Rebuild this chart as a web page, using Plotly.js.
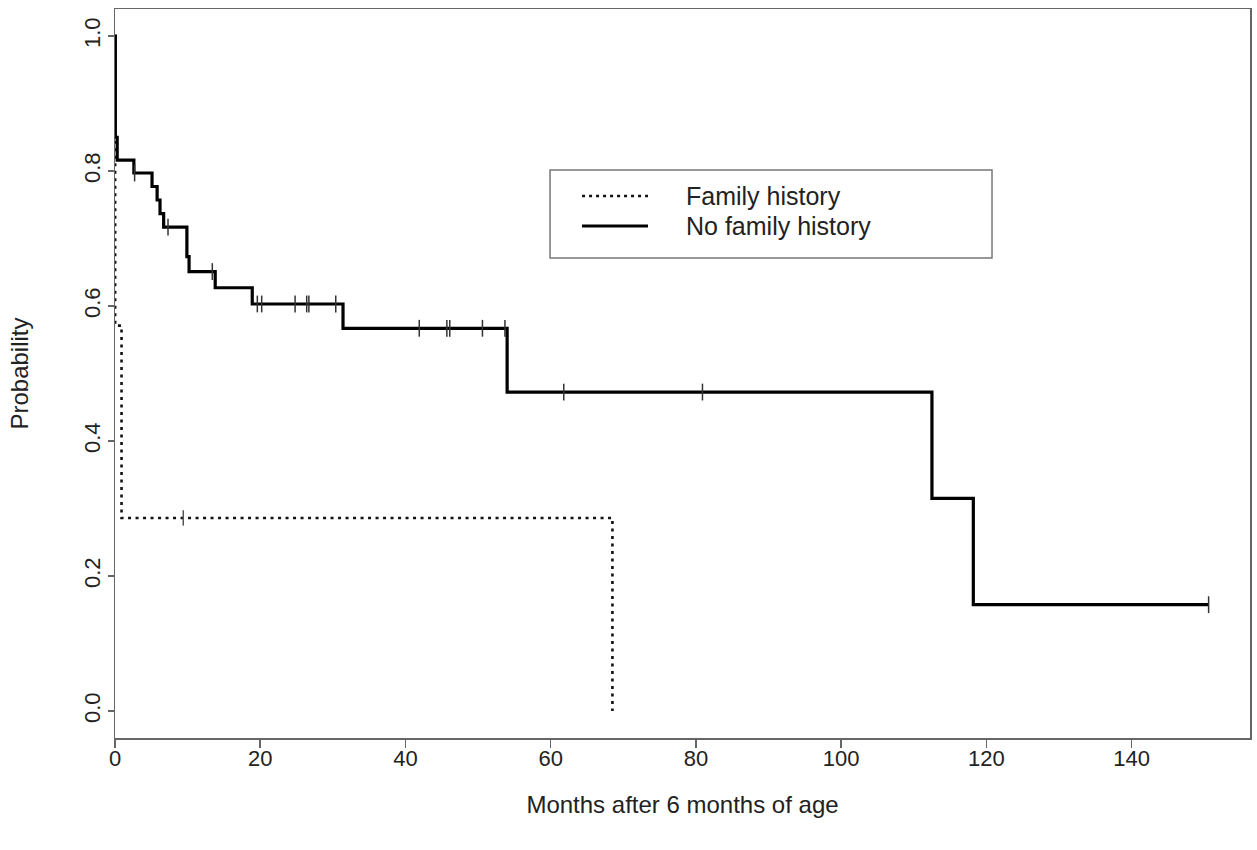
<!DOCTYPE html>
<html><head><meta charset="utf-8">
<script src="https://cdn.plot.ly/plotly-3.0.1.min.js"></script>
<style>html,body{margin:0;padding:0;background:#fff}#chart{width:1257px;height:850px}</style>
</head><body><div id="chart"></div>
<script>
// ---- data ----
const seriesNames = ['Family history', 'No family history'];

// No family history: event times (months) and survival after each step
const noFhTimes = [0.05, 0.3, 2.6, 5.1, 5.8, 6.2, 6.7, 9.9, 10.2, 13.8, 18.9, 31.4, 54.0, 112.5, 118.2];
const noFhSurv  = [0.85, 0.816, 0.797, 0.777, 0.757, 0.737, 0.717, 0.673, 0.651, 0.627, 0.603, 0.567, 0.4725, 0.315, 0.1575];
const noFhEnd = 150.6;
const noFhCensor = [2.7, 7.3, 13.4, 19.6, 20.2, 24.8, 26.4, 26.7, 30.4, 41.9, 45.7, 46.1, 50.6, 53.7, 61.8, 80.9, 150.6];

// Family history
const fhTimes = [0.02, 0.9, 68.5];
const fhSurv  = [0.571, 0.286, 0.0];
const fhEnd = 68.5;
const fhCensor = [9.4];

const xTickVals = [0, 20, 40, 60, 80, 100, 120, 140];
const yTickVals = [0, 0.2, 0.4, 0.6, 0.8, 1.0];
const yTickText = ['0.0', '0.2', '0.4', '0.6', '0.8', '1.0'];

// ---- helpers ----
function stepXY(times, surv, end) {
  const x = [0].concat(times);
  const y = [1].concat(surv);
  if (end > times[times.length - 1]) { x.push(end); y.push(surv[surv.length - 1]); }
  return {x, y};
}
function survAt(times, surv, t) {
  let s = 1;
  for (let i = 0; i < times.length; i++) { if (times[i] <= t) s = surv[i]; }
  return s;
}

const fh = stepXY(fhTimes, fhSurv, fhEnd);
const nfh = stepXY(noFhTimes, noFhSurv, noFhEnd);

const FONT = 'Arial, "Liberation Sans", sans-serif';
const AXC = '#666';
const TXT = '#222';

const traces = [
  { x: fh.x, y: fh.y, mode: 'lines', line: {shape: 'hv', color: '#111', width: 2.6, dash: '3px,4.5px'}, name: seriesNames[0], hoverinfo: 'skip' },
  { x: fhCensor, y: fhCensor.map(t => survAt(fhTimes, fhSurv, t)), mode: 'markers', marker: {symbol: 'line-ns-open', size: 11, color: '#555', line: {width: 1.5, color: '#555'}}, showlegend: false, hoverinfo: 'skip' },
  { x: nfh.x, y: nfh.y, mode: 'lines', line: {shape: 'hv', color: '#000', width: 3.2}, name: seriesNames[1], hoverinfo: 'skip' },
  { x: noFhCensor, y: noFhCensor.map(t => survAt(noFhTimes, noFhSurv, t)), mode: 'markers', marker: {symbol: 'line-ns-open', size: 12, color: '#333', line: {width: 1.5, color: '#333'}}, showlegend: false, hoverinfo: 'skip' }
];

// manual legend (R style box)
const lx0 = 0.3833, lx1 = 0.7727, ly0 = 0.6584, ly1 = 0.7791;
const shapes = [
  {type: 'rect', xref: 'paper', yref: 'paper', x0: lx0, x1: lx1, y0: ly0, y1: ly1, line: {color: '#777', width: 1.5}, fillcolor: 'rgba(0,0,0,0)'},
  {type: 'line', xref: 'paper', yref: 'paper', x0: 0.4115, x1: 0.4696, y0: 0.7435, y1: 0.7435, line: {color: '#111', width: 2.4, dash: '3px,4px'}},
  {type: 'line', xref: 'paper', yref: 'paper', x0: 0.4115, x1: 0.4696, y0: 0.7023, y1: 0.7023, line: {color: '#000', width: 3.2}}
];
const annotations = [
  {xref: 'paper', yref: 'paper', x: 0.5013, y: 0.7435, xanchor: 'left', yanchor: 'middle', text: seriesNames[0], showarrow: false, font: {family: FONT, size: 25, color: TXT}},
  {xref: 'paper', yref: 'paper', x: 0.5013, y: 0.7023, xanchor: 'left', yanchor: 'middle', text: seriesNames[1], showarrow: false, font: {family: FONT, size: 25, color: TXT}}
];

const layout = {
  width: 1257, height: 850,
  margin: {l: 115, r: 7, t: 9, b: 112},
  paper_bgcolor: '#fff', plot_bgcolor: '#fff',
  showlegend: false,
  font: {family: FONT, size: 22, color: TXT},
  xaxis: {
    range: [0, 156.3], tickmode: 'array', tickvals: xTickVals,
    showline: true, mirror: true, linecolor: AXC, linewidth: 1.5,
    ticks: 'outside', ticklen: 8, tickwidth: 1.5, tickcolor: AXC, ticklabelstandoff: -8,
    showgrid: false, zeroline: false,
    tickfont: {family: FONT, size: 22, color: TXT},
    title: {text: 'Months after 6 months of age', font: {family: FONT, size: 24, color: TXT}, standoff: 26}
  },
  yaxis: {
    range: [-0.04, 1.04], tickmode: 'array', tickvals: yTickVals, ticktext: yTickText, tickangle: -90,
    showline: true, mirror: true, linecolor: AXC, linewidth: 1.5,
    ticks: 'outside', ticklen: 6, tickwidth: 1.5, tickcolor: AXC, ticklabelstandoff: -1,
    showgrid: false, zeroline: false,
    tickfont: {family: FONT, size: 22, color: TXT},
    title: {text: 'Probability', font: {family: FONT, size: 24, color: TXT}, standoff: 44}
  },
  shapes: shapes,
  annotations: annotations
};

Plotly.newPlot('chart', traces, layout, {displayModeBar: false, staticPlot: true});
</script></body></html>
